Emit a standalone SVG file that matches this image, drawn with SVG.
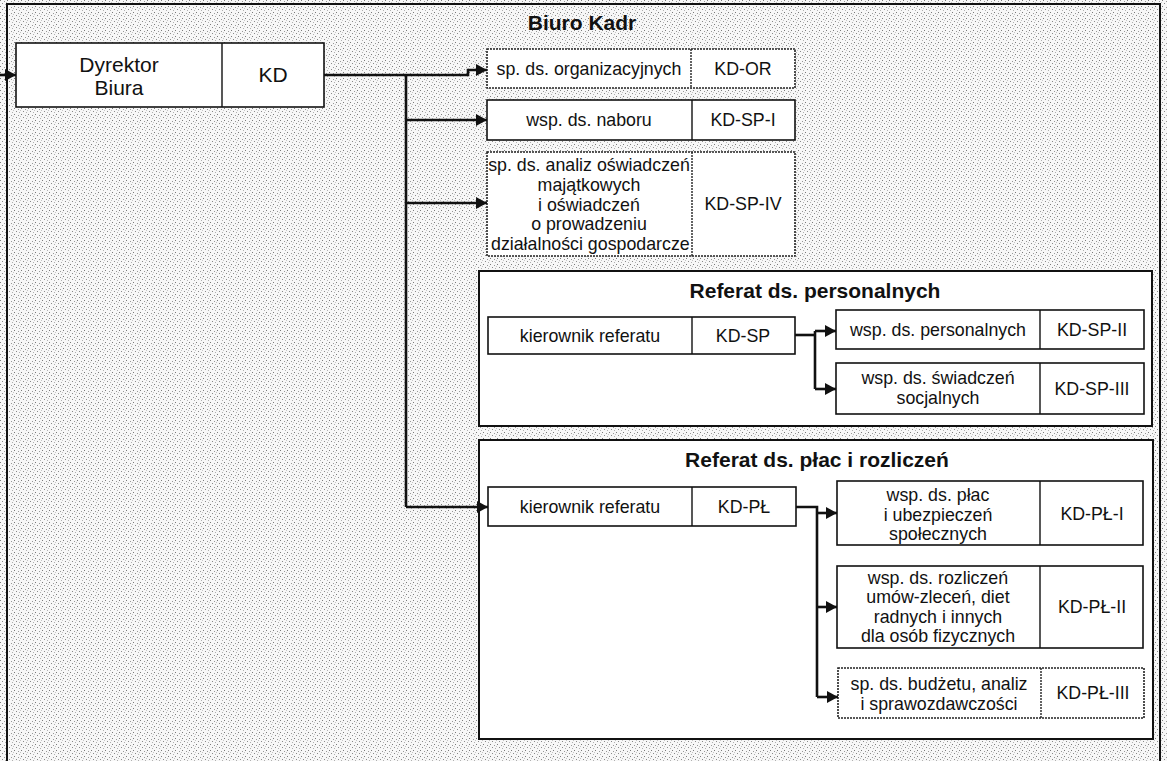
<svg xmlns="http://www.w3.org/2000/svg" width="1167" height="761" viewBox="0 0 1167 761">
<style>
.t{font-family:"Liberation Sans",Arial,sans-serif;font-size:17.8px;fill:#111;text-anchor:middle}
.big{font-size:21px}
.ttl{font-family:"Liberation Sans",Arial,sans-serif;font-size:21px;font-weight:bold;fill:#111;text-anchor:middle}
.box{fill:#fff;stroke:#111;stroke-width:1.6}
.dot{fill:#fff;stroke:#222;stroke-width:1.6;stroke-dasharray:2 1}
.ref{fill:#fff;stroke:#111;stroke-width:2}
.div{stroke:#111;stroke-width:1.4}
.divd{stroke:#222;stroke-width:1.4;stroke-dasharray:2 1}
.con{fill:none;stroke:#111;stroke-width:2.6}
</style>
<defs>
<pattern id="stip" width="7" height="6" patternUnits="userSpaceOnUse">
<rect width="7" height="6" fill="#f7f7f7"/>
<rect x="0" y="0" width="1" height="1" fill="#7a7a7a"/>
<rect x="4" y="1" width="1" height="1" fill="#999"/>
<rect x="2" y="3" width="1" height="1" fill="#8a8a8a"/>
<rect x="5" y="4" width="1" height="1" fill="#b0b0b0"/>
<rect x="6" y="2" width="1" height="1" fill="#c4c4c4"/>
</pattern>
<marker id="ah" markerUnits="userSpaceOnUse" markerWidth="12" markerHeight="12" refX="11" refY="6" orient="auto">
<path d="M0,0 L11,6 L0,12 z" fill="#111"/>
</marker>
<clipPath id="c3"><rect x="487" y="152" width="205" height="104"/></clipPath>
</defs>
<rect x="0" y="0" width="1167" height="761" fill="url(#stip)"/>
<rect x="7" y="4" width="1153" height="780" fill="none" stroke="#111" stroke-width="2"/>
<text class="ttl" x="582" y="30">Biuro Kadr</text>

<g id="dyrektor">
<rect class="box" x="16" y="43" width="308" height="64" stroke-width="1.8"/>
<line class="div" x1="222" y1="43" x2="222" y2="107"/>
<text class="t big" x="119" y="72">Dyrektor</text>
<text class="t big" x="119" y="95">Biura</text>
<text class="t big" x="273" y="82">KD</text>
</g>

<g id="kd-or">
<rect class="dot" x="487" y="49" width="308" height="39"/>
<line class="divd" x1="691" y1="49" x2="691" y2="88"/>
<text class="t" x="589" y="75">sp. ds. organizacyjnych</text>
<text class="t" x="743" y="75">KD-OR</text>
</g>

<g id="kd-sp-i">
<rect class="box" x="487" y="100" width="308" height="40"/>
<line class="div" x1="692" y1="100" x2="692" y2="140"/>
<text class="t" x="589" y="126">wsp. ds. naboru</text>
<text class="t" x="743" y="126">KD-SP-I</text>
</g>

<g id="kd-sp-iv">
<rect class="dot" x="487" y="152" width="308" height="104"/>
<line class="divd" x1="692" y1="152" x2="692" y2="256"/>
<g clip-path="url(#c3)">
<text class="t" x="589" y="171">sp. ds. analiz oświadczeń</text>
<text class="t" x="589" y="191">majątkowych</text>
<text class="t" x="589" y="211">i oświadczeń</text>
<text class="t" x="589" y="230">o prowadzeniu</text>
<text class="t" x="491" y="250" style="text-anchor:start">działalności gospodarcze</text>
</g>
<text class="t" x="743" y="210">KD-SP-IV</text>
</g>

<g id="referat-personalnych">
<rect class="ref" x="479" y="271" width="673" height="155"/>
<text class="ttl" x="815" y="298">Referat ds. personalnych</text>
</g>

<g id="kd-sp">
<rect class="box" x="488" y="317" width="307" height="37"/>
<line class="div" x1="692" y1="317" x2="692" y2="354"/>
<text class="t" x="590" y="342">kierownik referatu</text>
<text class="t" x="743" y="342">KD-SP</text>
</g>

<g id="kd-sp-ii">
<rect class="box" x="836" y="310" width="308" height="39"/>
<line class="div" x1="1040" y1="310" x2="1040" y2="349"/>
<text class="t" x="938" y="336">wsp. ds. personalnych</text>
<text class="t" x="1092" y="336">KD-SP-II</text>
</g>

<g id="kd-sp-iii">
<rect class="box" x="836" y="363" width="308" height="51"/>
<line class="div" x1="1040" y1="363" x2="1040" y2="414"/>
<text class="t" x="938" y="384">wsp. ds. świadczeń</text>
<text class="t" x="938" y="404">socjalnych</text>
<text class="t" x="1092" y="395">KD-SP-III</text>
</g>

<g id="referat-plac">
<rect class="ref" x="479" y="440" width="674" height="299"/>
<text class="ttl" x="817" y="467">Referat ds. płac i rozliczeń</text>
</g>

<g id="kd-pl">
<rect class="box" x="488" y="487" width="308" height="39"/>
<line class="div" x1="692" y1="487" x2="692" y2="526"/>
<text class="t" x="590" y="513">kierownik referatu</text>
<text class="t" x="744" y="513">KD-PŁ</text>
</g>

<g id="kd-pl-i">
<rect class="box" x="837" y="481" width="306" height="64"/>
<line class="div" x1="1040" y1="481" x2="1040" y2="545"/>
<text class="t" x="938" y="501">wsp. ds. płac</text>
<text class="t" x="938" y="521">i ubezpieczeń</text>
<text class="t" x="938" y="540">społecznych</text>
<text class="t" x="1092" y="520">KD-PŁ-I</text>
</g>

<g id="kd-pl-ii">
<rect class="box" x="837" y="566" width="306" height="82"/>
<line class="div" x1="1040" y1="566" x2="1040" y2="648"/>
<text class="t" x="938" y="584">wsp. ds. rozliczeń</text>
<text class="t" x="938" y="603">umów-zleceń, diet</text>
<text class="t" x="938" y="623">radnych i innych</text>
<text class="t" x="938" y="642">dla osób fizycznych</text>
<text class="t" x="1092" y="613">KD-PŁ-II</text>
</g>

<g id="kd-pl-iii">
<rect class="dot" x="838" y="668" width="306" height="50"/>
<line class="divd" x1="1041" y1="668" x2="1041" y2="718"/>
<text class="t" x="939" y="690">sp. ds. budżetu, analiz</text>
<text class="t" x="939" y="710">i sprawozdawczości</text>
<text class="t" x="1093" y="699">KD-PŁ-III</text>
</g>

<g id="connectors">
<path class="con" d="M0,75 H16" marker-end="url(#ah)"/>
<path class="con" d="M324,75 H468 V70 H487" marker-end="url(#ah)"/>
<path class="con" d="M406,75 V507"/>
<path class="con" d="M406,120 H487" marker-end="url(#ah)"/>
<path class="con" d="M406,203 H487" marker-end="url(#ah)"/>
<path class="con" d="M406,507 H488" marker-end="url(#ah)"/>
<path class="con" d="M795,335 H815"/>
<path class="con" d="M815,331 V389"/>
<path class="con" d="M815,331 H836" marker-end="url(#ah)"/>
<path class="con" d="M815,389 H836" marker-end="url(#ah)"/>
<path class="con" d="M796,507 H817 V697"/>
<path class="con" d="M817,513 H837" marker-end="url(#ah)"/>
<path class="con" d="M817,607 H837" marker-end="url(#ah)"/>
<path class="con" d="M817,697 H838" marker-end="url(#ah)"/>
</g>
</svg>
